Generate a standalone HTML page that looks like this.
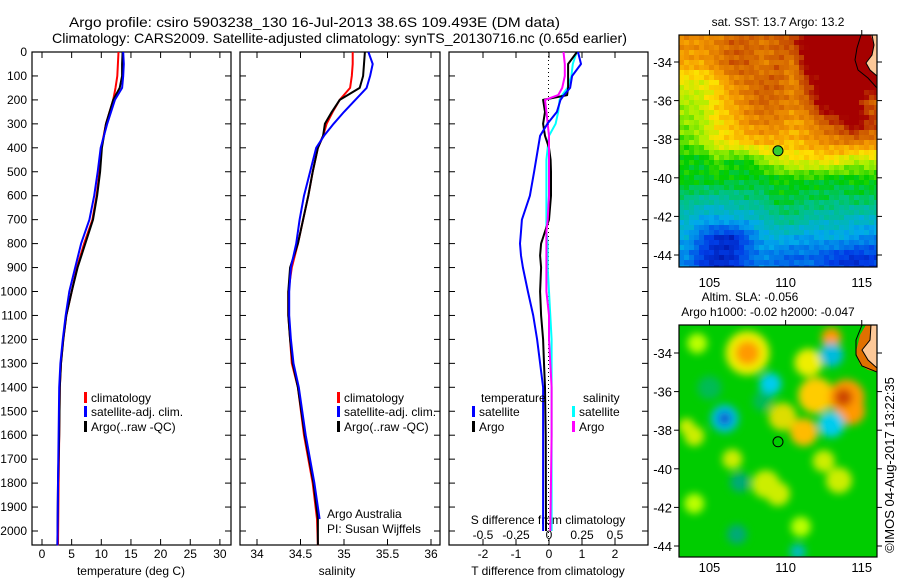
<!DOCTYPE html>
<html><head><meta charset="utf-8"><style>
body{margin:0;background:#fff}
svg{display:block;font-family:"Liberation Sans",sans-serif}
text{fill:#000}
</style></head><body>
<svg id="fig" width="900" height="580" viewBox="0 0 900 580">
<defs>
<filter id="blur" x="-30%" y="-30%" width="160%" height="160%"><feGaussianBlur stdDeviation="4"/></filter>
<clipPath id="m2clip"><rect x="679" y="325" width="198" height="232"/></clipPath>
<clipPath id="m1clip"><rect x="679" y="35" width="198" height="232"/></clipPath>
</defs>
<g>
<text x="69" y="27" font-size="14" textLength="491" lengthAdjust="spacingAndGlyphs">Argo profile: csiro 5903238_130 16-Jul-2013 38.6S 109.493E (DM data)</text>
<text x="52" y="43" font-size="14" textLength="575" lengthAdjust="spacingAndGlyphs">Climatology: CARS2009. Satellite-adjusted climatology: synTS_20130716.nc (0.65d earlier)</text>
</g>
<g id="panels"></g>
<g id="maps"></g>
<text x="894" y="465" font-size="13" text-anchor="middle" transform="rotate(-90 894 465)">©IMOS 04-Aug-2017 13:22:35</text>
</svg>
<script>
// ---- profile data (depth in m) ----
const tDepth = [0,50,100,150,200,300,400,500,600,700,800,900,1000,1100,1200,1300,1400,1600,1800,2060];
const tClim  = [12.9,12.8,12.7,12.4,12.0,10.8,10.0,9.7,9.2,8.5,7.1,5.9,5.0,4.1,3.6,3.2,3.0,2.9,2.8,2.7];
const tSat   = [13.7,13.8,13.7,13.5,12.3,11.0,9.9,9.4,8.8,8.0,6.6,5.6,4.6,4.0,3.5,3.1,2.9,2.8,2.7,2.6];
const tArgo  = [13.6,13.5,13.5,13.1,12.0,10.8,10.1,9.8,9.3,8.6,7.3,6.0,5.0,4.1,3.6,3.2,3.0,2.9,2.7,2.6];
const sDepth = [0,50,100,150,200,250,300,350,400,500,600,700,800,900,1000,1100,1200,1300,1400,1600,1800,1950,2060];
const sClim  = [35.10,35.10,35.09,35.07,34.95,34.87,34.80,34.76,34.70,34.64,34.59,34.53,34.47,34.40,34.36,34.36,34.38,34.40,34.47,34.54,34.64,34.69,34.70];
const sSat   = [35.28,35.33,35.30,35.26,35.13,35.00,34.88,34.77,34.68,34.61,34.54,34.49,34.45,34.39,34.37,34.37,34.39,34.42,34.48,34.56,34.66,34.72,34.72];
const sArgo  = [35.24,35.23,35.22,35.18,34.95,34.86,34.78,34.76,34.70,34.64,34.59,34.53,34.47,34.38,34.36,34.36,34.38,34.41,34.47,34.55,34.65,34.70,34.70];
const dDepth = [0,50,100,150,180,200,250,300,350,400,450,500,600,700,750,800,850,900,1000,1100,1200,1300,1400,1600,2000];
const dTSat  = [0.88,0.97,0.70,0.64,0.45,0.35,0.24,-0.05,-0.27,-0.33,-0.39,-0.45,-0.58,-0.82,-0.85,-0.88,-0.85,-0.79,-0.64,-0.48,-0.36,-0.27,-0.18,-0.18,-0.18];
const dTArgo = [0.85,0.58,0.58,0.58,0.55,-0.18,-0.12,-0.18,-0.12,0.0,0.05,0.06,0.06,0.0,-0.12,-0.24,-0.27,-0.24,-0.27,-0.24,-0.18,-0.15,-0.12,-0.10,-0.09];
const dSSat  = [0.21,0.18,0.17,0.14,0.10,0.08,0.07,0.05,0.0,-0.01,-0.02,-0.02,-0.02,-0.02,-0.02,-0.01,-0.01,-0.01,0.0,0.01,0.02,0.02,0.02,0.02,0.02];
const dSArgo = [0.11,0.12,0.12,0.10,0.07,-0.03,-0.02,-0.01,0.0,0.0,0.0,0.0,0.0,-0.01,-0.02,-0.02,-0.02,-0.02,-0.02,0.0,0.0,0.01,0.02,0.02,0.01];
const depthTicks = [0,100,200,300,400,500,600,700,800,900,1000,1100,1200,1300,1400,1500,1600,1700,1800,1900,2000];
const tTicks = [0,5,10,15,20,25,30];
const sTicks = [34,34.5,35,35.5,36];
const sTickLabels = ["34","34.5","35","35.5","36"];
const dTTicks = [-2,-1,0,1,2];
const dSTicks = [-0.5,-0.25,0,0.25,0.5];
const dSTickLabels = ["-0.5","-0.25","0","0.25","0.5"];

const NS="http://www.w3.org/2000/svg";
function el(tag, attrs, parent, txt){const e=document.createElementNS(NS,tag);for(const k in attrs)e.setAttribute(k,attrs[k]);if(txt!==undefined)e.textContent=txt;parent.appendChild(e);return e;}
const yD = d => 52 + d*0.2395;
const pTop=52, pBot=545;
const panels=document.getElementById('panels');

function frame(g,x0,x1){
  const r=el('rect',{x:x0,y:pTop,width:x1-x0,height:pBot-pTop,fill:'none',stroke:'#000','stroke-width':1.2},g);
  
  
  depthTicks.forEach(d=>{
    el('line',{x1:x0,x2:x0+6,y1:yD(d),y2:yD(d),stroke:'#000'},g);
    el('line',{x1:x1-6,x2:x1,y1:yD(d),y2:yD(d),stroke:'#000'},g);
  });
}
function xticks(g,vals,labels,fx,y){
  vals.forEach((v,i)=>{
    const x=fx(v);
    el('line',{x1:x,x2:x,y1:pTop,y2:pTop+6,stroke:'#000'},g);
    el('line',{x1:x,x2:x,y1:pBot-6,y2:pBot,stroke:'#000'},g);
    const t=el('text',{x:x,y:y,'font-size':12,'text-anchor':'middle'},g,labels[i]);
    
    
  });
}
function line(g,depths,vals,fx,color,name,w){
  const pts=depths.map((d,i)=>fx(vals[i]).toFixed(1)+','+yD(d).toFixed(1)).join(' ');
  const p=el('polyline',{points:pts,fill:'none',stroke:color,'stroke-width':w||2,'stroke-linejoin':'round'},g);
  
  
}
function legendEntry(g,x,y,color,label){
  const gg=el('g',{},g);
  
  
  el('rect',{x:x,y:y-10,width:3,height:11,fill:color},gg);
  el('text',{x:x+7,y:y,'font-size':12},gg,label);
}
const dl=el('g',{},panels);


depthTicks.forEach(d=>el('text',{x:27,y:yD(d)+4,'font-size':12,'text-anchor':'end'},dl,String(d)));

// Panel 1 temperature
const fT=v=>42+v*5.93;
const g1=el('g',{},panels);


frame(g1,32,231);
xticks(g1,tTicks,tTicks.map(String),fT,558);
el('text',{x:131,y:575,'font-size':12,'text-anchor':'middle'},g1,'temperature (deg C)');
line(g1,tDepth,tClim,fT,'#f00','temp-climatology-line');
line(g1,tDepth,tArgo,fT,'#000','temp-argo-line');
line(g1,tDepth,tSat,fT,'#00f','temp-satellite-line');
legendEntry(g1,84,402,'#f00','climatology');
legendEntry(g1,84,416,'#00f','satellite-adj. clim.');
legendEntry(g1,84,431,'#000','Argo(..raw -QC)');

// Panel 2 salinity
const fS=v=>257+(v-34)*87;
const g2=el('g',{},panels);


frame(g2,240,440);
xticks(g2,sTicks,sTickLabels,fS,558);
el('text',{x:337,y:575,'font-size':12,'text-anchor':'middle'},g2,'salinity');
line(g2,sDepth,sClim,fS,'#f00','sal-climatology-line');
line(g2,sDepth,sArgo,fS,'#000','sal-argo-line');
line(g2,sDepth.slice(0,22),sSat.slice(0,22),fS,'#00f','sal-satellite-line');
legendEntry(g2,337,402,'#f00','climatology');
legendEntry(g2,337,416,'#00f','satellite-adj. clim.');
legendEntry(g2,337,431,'#000','Argo(..raw -QC)');
el('text',{x:327,y:518,'font-size':12},g2,'Argo Australia');
el('text',{x:327,y:533,'font-size':12},g2,'PI: Susan Wijffels');

// Panel 3 differences
const fDT=v=>549+v*33;
const fDS=v=>549+v*132;
const g3=el('g',{},panels);


frame(g3,449,648);
xticks(g3,dTTicks,dTTicks.map(String),fDT,558);
el('line',{x1:548.5,x2:548.5,y1:pTop,y2:pBot,stroke:'#000','stroke-dasharray':'1,3'},g3);
dSTicks.forEach((v,i)=>{const t=el('text',{x:fDS(v),y:539,'font-size':12,'text-anchor':'middle'},g3,dSTickLabels[i]);

});
el('text',{x:548,y:524,'font-size':12,'text-anchor':'middle'},g3,'S difference from climatology');
el('text',{x:548,y:575,'font-size':12,'text-anchor':'middle'},g3,'T difference from climatology');
line(g3,dDepth,dSSat,fDS,'#0ff','sdiff-satellite-line');
line(g3,dDepth,dTArgo,fDT,'#000','tdiff-argo-line');
line(g3,dDepth,dSArgo,fDS,'#f0f','sdiff-argo-line');
line(g3,dDepth,dTSat,fDT,'#00f','tdiff-satellite-line');
el('text',{x:481,y:402,'font-size':12},g3,'temperature');
el('text',{x:583,y:402,'font-size':12},g3,'salinity');
legendEntry(g3,472,416,'#00f','satellite');
legendEntry(g3,472,431,'#000','Argo');
legendEntry(g3,572,416,'#0ff','satellite');
legendEntry(g3,572,431,'#f0f','Argo');

// ---- maps ----
const lonTicks=[105,110,115];
const latTicks=[-34,-36,-38,-40,-42,-44];
const sstGrid=[
[0.78,0.78,0.8,0.85,0.85,0.82,0.85,0.88,1,1,1,1,1],
[0.75,0.75,0.8,0.85,0.85,0.8,0.85,0.8,1,1,1,1,1],
[0.65,0.65,0.7,0.78,0.82,0.85,0.85,0.78,0.9,1,1,1,1],
[0.6,0.62,0.7,0.75,0.8,0.85,0.82,0.8,0.85,1,1,1,0.85],
[0.58,0.6,0.68,0.72,0.78,0.8,0.8,0.75,0.78,0.85,0.9,1,0.9],
[0.55,0.6,0.66,0.7,0.72,0.74,0.74,0.72,0.76,0.78,0.8,0.82,0.8],
[0.5,0.48,0.55,0.5,0.5,0.58,0.62,0.66,0.66,0.68,0.66,0.6,0.62],
[0.5,0.48,0.5,0.48,0.48,0.47,0.5,0.5,0.5,0.48,0.48,0.5,0.5],
[0.42,0.4,0.38,0.4,0.42,0.42,0.48,0.46,0.44,0.46,0.42,0.45,0.44],
[0.35,0.3,0.3,0.32,0.32,0.36,0.4,0.42,0.38,0.36,0.38,0.34,0.35],
[0.3,0.2,0.12,0.1,0.2,0.3,0.32,0.3,0.28,0.3,0.3,0.28,0.25],
[0.25,0.15,0.1,0.12,0.2,0.25,0.22,0.2,0.22,0.18,0.15,0.12,0.15]];
function jet(v){
  const stops=[[0,[0,0,130]],[0.15,[0,60,230]],[0.3,[0,170,235]],[0.42,[0,195,130]],[0.5,[0,205,0]],[0.6,[170,240,0]],[0.68,[255,225,0]],[0.76,[245,155,0]],[0.86,[205,90,0]],[0.95,[165,0,0]],[1,[165,0,0]]];
  v=Math.max(0,Math.min(1,v));
  for(let i=1;i<stops.length;i++){if(v<=stops[i][0]){const a=stops[i-1],b=stops[i],t=(v-a[0])/(b[0]-a[0]);return 'rgb('+a[1].map((c,k)=>Math.round(c+(b[1][k]-c)*t)).join(',')+')';}}
  return 'rgb(165,0,0)';
}
function sstAt(fx,fy){ // bilinear sample of grid (cell centres)
  const R=sstGrid.length,C=sstGrid[0].length;
  let gx=Math.max(0,Math.min(C-1,fx-0.5)), gy=Math.max(0,Math.min(R-1,fy-0.5));
  const x0=Math.floor(gx),y0=Math.floor(gy),x1=Math.min(C-1,x0+1),y1=Math.min(R-1,y0+1),tx=gx-x0,ty=gy-y0;
  return sstGrid[y0][x0]*(1-tx)*(1-ty)+sstGrid[y0][x1]*tx*(1-ty)+sstGrid[y1][x0]*(1-tx)*ty+sstGrid[y1][x1]*tx*ty;
}
const maps=document.getElementById('maps');
const lonX=lon=>679+(lon-103)*15.23;
function mapAxes(g,y0,y1,latY,lblY){
  el('rect',{x:679,y:y0,width:198,height:y1-y0,fill:'none',stroke:'#000','stroke-width':1.2},g);
  lonTicks.forEach(l=>{const x=lonX(l);
    el('line',{x1:x,x2:x,y1:y0-5,y2:y0,stroke:'#000'},g);
    el('text',{x:x,y:lblY,'font-size':13,'text-anchor':'middle'},g,String(l));});
  latTicks.forEach(l=>{const y=latY(l);
    el('line',{x1:674,x2:679,y1:y,y2:y,stroke:'#000'},g);
    el('line',{x1:877,x2:882,y1:y,y2:y,stroke:'#000'},g);
    el('text',{x:672,y:y+5,'font-size':13,'text-anchor':'end'},g,String(l));});
}
// map 1
const m1=el('g',{},maps);


const lat1=l=>62+(-34-l)*19.3;
const img1=el('g',{'clip-path':'url(#m1clip)'},m1);
const cs=5;
for(let y=35;y<267;y+=cs){for(let x=679;x<877;x+=cs){
  const fx=(x+cs/2-679)/15.23, fy=(y+cs/2-35)/19.33;
  const tex=0.035*Math.sin(x*0.91+y*1.37)*Math.cos(x*0.43-y*0.77);
  el('rect',{x:x,y:y,width:cs+0.5,height:cs+0.5,fill:jet(sstAt(fx,fy)+tex)},img1);
}}
el('path',{d:'M866,35 L877,35 L877,88 L868,78 L860,72 L857,62 L862,50 L866,42 Z',fill:'#a50000'},m1);
el('path',{d:'M871,35 L877,35 L877,76 L870,70 L866,63 L872,55 L874,45 Z',fill:'#fcc898'},m1);
el('path',{d:'M861,35 L857,48 L855,60 L858,70 L868,78 L877,88',fill:'none',stroke:'#000','stroke-width':1},m1);
el('path',{d:'M872,35 L874,45 L872,55 L866,63 L870,70 L877,76',fill:'none',stroke:'#000','stroke-width':1},m1);
const dot=el('circle',{cx:lonX(109.5),cy:lat1(-38.6),r:5,fill:'#3c3',stroke:'#000'},m1);


mapAxes(m1,35,267,lat1,287);
el('text',{x:778,y:26,'font-size':12,'text-anchor':'middle'},m1,'sat. SST: 13.7 Argo: 13.2');

// map 2
const m2=el('g',{},maps);


const lat2=l=>353+(-34-l)*19.3;
const blobLon=[104.2,104,107.5,107.5,111.5,112,114,114.3,113.8,109.8,111.2,108.7,109.5,113.5,104,106.5,112.5,111,103.5,113,109,106,106,113,113,107,106.8,110.8,105,108.5];
const blobLat=[-33.5,-41.8,-34,-34,-34.5,-36.2,-36.3,-37,-36.3,-37.3,-38.1,-40.8,-41.3,-40.6,-38.3,-39.5,-39.6,-43,-37.8,-33.2,-35.6,-37.4,-37.4,-37.7,-34.1,-40.7,-43.4,-44.3,-35.8,-36.5];
const blobR=[10,10,22,12,14,18,18,14,9,14,14,14,12,13,10,10,11,10,8,10,11,14,6,13,12,10,10,8,12,10];
const blobC=['#bf0','#bf0','#ee0','#f90','#ee0','#fc0','#f90','#f90','#c40','#dd0','#fb0','#ce0','#ce0','#ce0','#ce0','#ce0','#ce0','#bf0','#ce0','#f90','#0ce','#0bd','#1040d0','#0ce','#0bd','#0a7','#0a7','#0bb','#0b5','#0b5'];
const bg=el('g',{'clip-path':'url(#m2clip)'},m2);
el('rect',{x:679,y:325,width:198,height:232,fill:'#00cc00'},bg);
const bb=el('g',{filter:'url(#blur)'},bg);
blobLon.forEach((l,i)=>{
  const c=el('circle',{cx:lonX(l),cy:lat2(blobLat[i]),r:blobR[i],fill:blobC[i]},bb);
  
  
});
el('path',{d:'M866,325 L877,325 L877,372 L868,370 L860,365 L856,352 L860,335 Z',fill:'#e07000'},bg);
el('path',{d:'M871,325 L877,325 L877,368 L868,360 L862,350 L870,340 Z',fill:'#fcc898'},bg);
el('path',{d:'M862,325 L856,340 L856,355 L862,366 L877,372',fill:'none',stroke:'#000'},bg);
el('path',{d:'M871,325 L870,340 L862,350 L868,360 L877,368',fill:'none',stroke:'#000'},bg);
const dot2=el('circle',{cx:lonX(109.5),cy:lat2(-38.6),r:5,fill:'none',stroke:'#000'},m2);


mapAxes(m2,325,557,lat2,572);
el('text',{x:750,y:301,'font-size':12,'text-anchor':'middle'},m2,'Altim. SLA: -0.056');
el('text',{x:768,y:316,'font-size':12,'text-anchor':'middle'},m2,'Argo h1000: -0.02 h2000: -0.047');
</script>
</body></html>
